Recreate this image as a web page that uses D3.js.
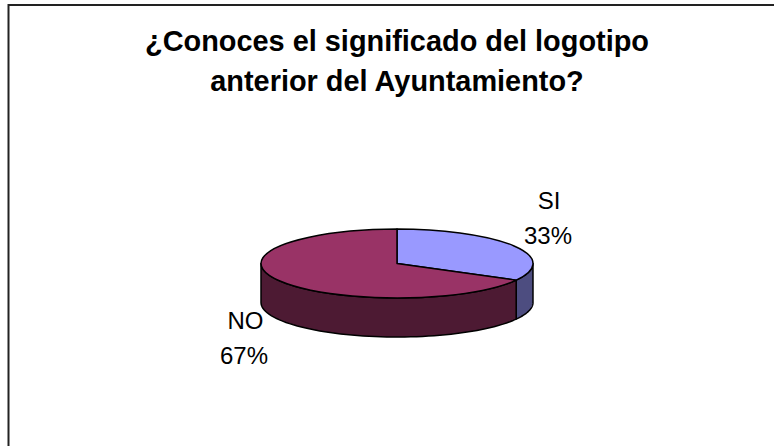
<!DOCTYPE html>
<html><head><meta charset="utf-8">
<script src="https://cdn.jsdelivr.net/npm/d3@7/dist/d3.min.js"></script>
<style>html,body{margin:0;padding:0;background:#fff}svg{display:block}text{font-family:"Liberation Sans",Arial,sans-serif;fill:#000}</style>
</head><body><div id="c"></div>
<script>
const categories = ["SI", "NO"];
const values = [33, 67];
const percentLabels = ["33%", "67%"];
const topColors = ["#9999ff", "#993366"];
const sideColors = ["#4d4d80", "#4d1a33"];
const titleLines = ["¿Conoces el significado del logotipo", "anterior del Ayuntamiento?"];

const W = 774, H = 446;
const cx = 397, cy = 263.5, rx = 136, ry = 34.5, depth = 39;
const svg = d3.select("#c").append("svg").attr("width", W).attr("height", H);
svg.append("rect").attr("width", W).attr("height", H).attr("fill", "#fff");
svg.append("path").attr("d", `M8.5 ${H} V5 H${W}`).attr("fill", "none").attr("stroke", "#222").attr("stroke-width", 2);

svg.selectAll("text.title").data(titleLines).join("text").attr("class", "title")
  .attr("x", 397).attr("y", (d, i) => 51 + i * 40).attr("text-anchor", "middle")
  .attr("font-size", 28.9).attr("font-weight", "bold").text(d => d);

const arcs = d3.pie().sort(null)(values);
const px = a => cx + rx * Math.sin(a), py = a => cy - ry * Math.cos(a);
const g = svg.append("g");

function sidePath(a0, a1) {
  const lo = Math.max(a0, Math.PI / 2), hi = Math.min(a1, 3 * Math.PI / 2);
  if (hi <= lo) return null;
  const steps = d3.range(0, 61).map(i => lo + (hi - lo) * i / 60);
  const front = steps.map(a => [px(a), py(a)]);
  const back = steps.slice().reverse().map(a => [px(a), py(a) + depth]);
  return d3.line()(front.concat(back)) + "Z";
}
g.selectAll("path.side").data(arcs).join("path").attr("class", "side")
  .attr("d", d => sidePath(d.startAngle, d.endAngle))
  .attr("fill", (d, i) => sideColors[i]).attr("stroke", "#000").attr("stroke-width", 1.5).attr("stroke-linejoin", "round");
const arcGen = d3.arc().innerRadius(0).outerRadius(rx);
g.selectAll("path.top").data(arcs).join("path").attr("class", "top")
  .attr("transform", `translate(${cx},${cy}) scale(1,${ry / rx})`)
  .attr("d", arcGen).attr("vector-effect", "non-scaling-stroke")
  .attr("fill", (d, i) => topColors[i]).attr("stroke", "#000").attr("stroke-width", 1.5).attr("stroke-linejoin", "round");

const labelPos = [[549, 209, 548, 244], [245.5, 329, 244, 364]];
categories.forEach((c, i) => {
  svg.append("text").attr("x", labelPos[i][0]).attr("y", labelPos[i][1]).attr("text-anchor", "middle").attr("font-size", 24).text(c);
  svg.append("text").attr("x", labelPos[i][2]).attr("y", labelPos[i][3]).attr("text-anchor", "middle").attr("font-size", 24).text(percentLabels[i]);
});
</script></body></html>
